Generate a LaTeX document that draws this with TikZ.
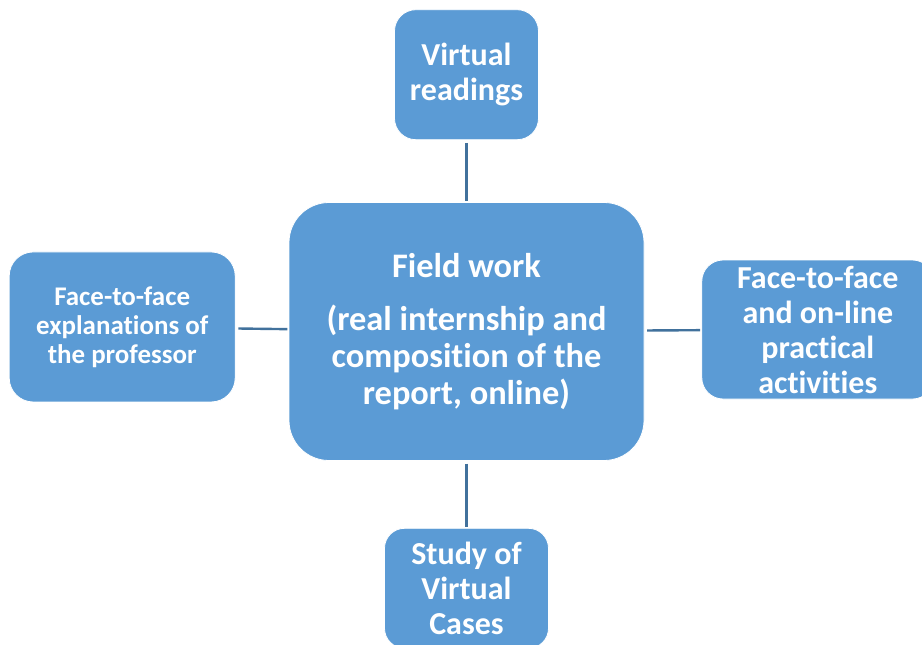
\documentclass[tikz,border=0pt]{standalone}
\usepackage{fontspec}
\setmainfont{Carlito}[Ligatures=NoCommon]
\usetikzlibrary{positioning}

\begin{document}
\begin{tikzpicture}[x=0.75pt, y=-0.75pt,
        box/.style={fill=boxblue, draw=white, line width=0.6pt, text=white,
                    font=\bfseries\fontsize{24}{26.25}\selectfont,
                    align=center, inner sep=0pt, rounded corners=16pt},
        link/.style={draw=linkblue, line width=1.8pt, shorten <=2pt, shorten >=1pt}]
    \definecolor{boxblue}{HTML}{5B9BD5}
    \definecolor{linkblue}{HTML}{41719C}
    \useasboundingbox (0,0) rectangle (922,644);
    \clip (0,0) rectangle (922,644);

    \node[box, minimum width=266.25pt, minimum height=193.5pt, rounded corners=30pt,
          font=\bfseries\fontsize{25.8}{27.5}\selectfont] (field) at (466.5,331.5)
        {Field work\\[12.5pt] (real internship and\\ composition of the\\ report, online)};
    \node[box, minimum width=108pt, minimum height=97.5pt, above=46.5pt of field] (readings)
        {Virtual\\ readings};
    \node[box, minimum width=169.5pt, minimum height=112.5pt, rounded corners=18pt,
          font=\bfseries\fontsize{20.2}{21.75}\selectfont,
          left=39.75pt of field, yshift=3.4pt] (explain)
        {Face-to-face\\ explanations of\\ the professor};
    \node[box, minimum width=174pt, minimum height=104.25pt, right=42.75pt of field, yshift=1.5pt] (practical)
        {Face-to-face\\ and on-line\\ practical\\ activities};
    \node[box, minimum width=123pt, minimum height=90pt, rounded corners=15pt, below=50.25pt of field] (cases)
        {Study of\\ Virtual\\ Cases};

    \draw[link] (readings) -- (field);
    \draw[link] (explain) -- (field);
    \draw[link] (field) -- (practical);
    \draw[link] (field) -- (cases);
\end{tikzpicture}
\end{document}
